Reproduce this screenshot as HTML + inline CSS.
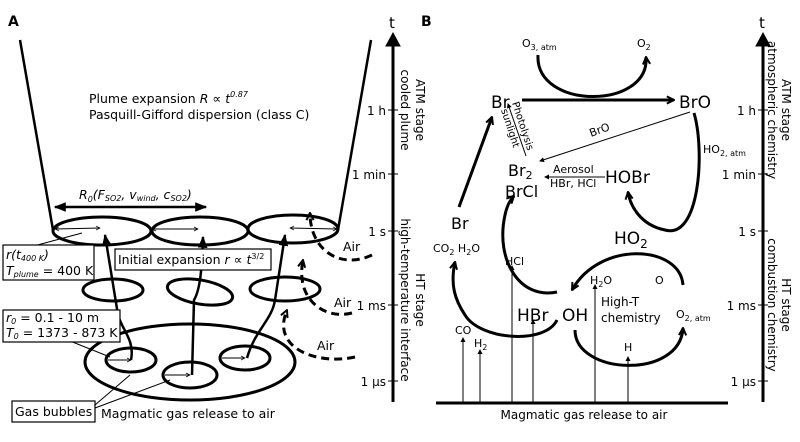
<!DOCTYPE html>
<html><head><meta charset="utf-8"><style>
body{margin:0;background:#fff}
svg{display:block;font-family:"DejaVu Sans","Liberation Sans",sans-serif}
</style></head><body>
<svg width="800" height="442" viewBox="0 0 800 442" xmlns="http://www.w3.org/2000/svg">
<defs>
<marker id="ah" viewBox="0 0 10 10" refX="8" refY="5" markerUnits="userSpaceOnUse" markerWidth="5" markerHeight="5" orient="auto-start-reverse"><path d="M0,0 L10,5 L0,10 z" fill="#000"/></marker>
<marker id="ao" viewBox="0 0 10 10" refX="9" refY="5" markerUnits="userSpaceOnUse" markerWidth="9" markerHeight="9" orient="auto"><path d="M1,1 L9,5 L1,9" fill="none" stroke="#000" stroke-width="2.2"/></marker>
<marker id="ai" viewBox="0 0 10 10" refX="9" refY="5" markerUnits="userSpaceOnUse" markerWidth="5" markerHeight="5" orient="auto-start-reverse"><path d="M1,1 L9,5 L1,9" fill="none" stroke="#000" stroke-width="1.5"/></marker>
<marker id="as" viewBox="0 0 10 10" refX="9" refY="5" markerUnits="userSpaceOnUse" markerWidth="12" markerHeight="12" orient="auto-start-reverse"><path d="M0,1 L10,5 L0,9 z" fill="#000"/></marker>
</defs>
<g fill="none" stroke="#000">
<!-- Panel A -->
<text x="8" y="26" font-weight="bold" font-size="14" fill="#000" stroke="none">A</text>
<line x1="393" y1="402" x2="393" y2="46" stroke-width="3"/>
<path d="M386,46 L393,33 L400,46 z" fill="#000"/>
<g stroke-width="1"><line x1="388" y1="110" x2="398" y2="110"/><line x1="388" y1="174" x2="398" y2="174"/><line x1="388" y1="231" x2="398" y2="231"/><line x1="388" y1="305" x2="398" y2="305"/><line x1="388" y1="381" x2="398" y2="381"/></g>
<g fill="#000" stroke="none" font-size="12" text-anchor="end">
<text x="386" y="115">1 h</text><text x="386" y="179">1 min</text><text x="386" y="236">1 s</text><text x="386" y="310">1 ms</text><text x="386" y="386">1 µs</text>
<text x="392" y="28" text-anchor="middle" font-size="15">t</text>
</g>
<g fill="#000" stroke="none" font-size="12" text-anchor="middle">
<text transform="translate(416,110) rotate(90)">ATM stage</text>
<text transform="translate(401,110) rotate(90)">cooled plume</text>
<text transform="translate(416,300) rotate(90)">HT stage</text>
<text transform="translate(401,300) rotate(90)">high-temperature interface</text>
</g>
<line x1="20" y1="40" x2="53" y2="230" stroke-width="2.5"/>
<line x1="371" y1="40" x2="338" y2="230" stroke-width="2.5"/>
<g fill="#000" stroke="none" font-size="12.5">
<text x="89" y="103">Plume expansion <tspan font-style="italic">R</tspan> ∝ <tspan font-style="italic">t</tspan><tspan font-size="8" dy="-6" font-style="italic">0.87</tspan></text>
<text x="89" y="119">Pasquill-Gifford dispersion (class C)</text>
<text x="79" y="199" font-style="italic">R<tspan font-size="8" dy="3">0</tspan><tspan dy="-3">(F</tspan><tspan font-size="8" dy="2">SO2</tspan><tspan dy="-2">, v</tspan><tspan font-size="8" dy="2">wind</tspan><tspan dy="-2">, c</tspan><tspan font-size="8" dy="2">SO2</tspan><tspan dy="-2">)</tspan></text>
</g>
<line x1="55" y1="207" x2="206" y2="207" stroke-width="2.5" marker-start="url(#as)" marker-end="url(#as)"/>
<g stroke-width="3">
<ellipse cx="102" cy="231" rx="49" ry="14"/><ellipse cx="200" cy="231" rx="48" ry="14"/><ellipse cx="293" cy="229" rx="45" ry="14"/>
<ellipse cx="113" cy="290" rx="30" ry="11"/><ellipse cx="200" cy="292" rx="33" ry="12" transform="rotate(10 200 292)"/><ellipse cx="285" cy="289" rx="35" ry="12"/>
<ellipse cx="190" cy="362" rx="105" ry="38"/>
<ellipse cx="131" cy="360" rx="25" ry="12"/><ellipse cx="190" cy="375" rx="27" ry="13"/><ellipse cx="245" cy="358" rx="25" ry="12"/>
</g>
<g stroke-width="1">
<line x1="55" y1="229" x2="100" y2="228" marker-start="url(#ai)" marker-end="url(#ai)"/>
<line x1="152" y1="229" x2="198" y2="229" marker-start="url(#ai)" marker-end="url(#ai)"/>
<line x1="290" y1="228" x2="337" y2="229" marker-start="url(#ai)" marker-end="url(#ai)"/>
<line x1="108" y1="360" x2="131" y2="360" marker-end="url(#ai)"/>
<line x1="165" y1="375" x2="190" y2="375" marker-end="url(#ai)"/>
<line x1="222" y1="358" x2="245" y2="358" marker-end="url(#ai)"/>
<line x1="30" y1="247" x2="82" y2="233"/>
<line x1="70" y1="341" x2="110" y2="357"/>
<line x1="95" y1="405" x2="130" y2="375"/>
<line x1="95" y1="408" x2="170" y2="380"/>
</g>
<g stroke-width="2.5">
<path d="M131,360 C135,340 122,330 118,315 L105,235" marker-end="url(#as)"/>
<path d="M192,375 L194,300 C200,290 202,270 203,237" marker-end="url(#as)"/>
<path d="M247,358 C255,330 272,320 275,300 L285,235" marker-end="url(#as)"/>
</g>
<g stroke-width="3" stroke-dasharray="8,5">
<path d="M372,255 C340,270 310,250 310,213" marker-end="url(#ao)"/>
<path d="M352,313 C325,320 295,300 303,260" marker-end="url(#ao)"/>
<path d="M355,357 C320,365 270,350 287,310" marker-end="url(#ao)"/>
</g>
<g stroke-width="1.2" fill="#fff">
<rect x="3" y="245" width="91" height="35"/>
<rect x="115" y="249" width="156" height="21"/>
<rect x="3" y="310" width="117" height="32"/>
<rect x="12" y="401" width="83" height="21"/>
</g>
<g fill="#000" stroke="none" font-size="12.5">
<text x="6" y="259" font-style="italic">r(t<tspan font-size="8" dy="2">400 K</tspan><tspan dy="-2">)</tspan></text>
<text x="6" y="275"><tspan font-style="italic">T</tspan><tspan font-size="8" dy="2" font-style="italic">plume</tspan><tspan dy="-2"> = 400 K</tspan></text>
<text x="118" y="264">Initial expansion <tspan font-style="italic">r</tspan> ∝ <tspan font-style="italic">t</tspan><tspan font-size="8" dy="-5">3/2</tspan></text>
<text x="6" y="322"><tspan font-style="italic">r</tspan><tspan font-size="8" dy="2" font-style="italic">0</tspan><tspan dy="-2"> = 0.1 - 10 m</tspan></text>
<text x="6" y="337"><tspan font-style="italic">T</tspan><tspan font-size="8" dy="2" font-style="italic">0</tspan><tspan dy="-2"> = 1373 - 873 K</tspan></text>
<text x="15" y="416">Gas bubbles</text>
<text x="101" y="418">Magmatic gas release to air</text>
<text x="343" y="251">Air</text><text x="334" y="307">Air</text><text x="317" y="350">Air</text>
</g>

<!-- Panel B -->
<text x="421" y="26" font-weight="bold" font-size="14" fill="#000" stroke="none">B</text>
<line x1="763" y1="402" x2="763" y2="46" stroke-width="3"/>
<path d="M756,46 L763,33 L770,46 z" fill="#000"/>
<g stroke-width="1"><line x1="758" y1="110" x2="768" y2="110"/><line x1="758" y1="174" x2="768" y2="174"/><line x1="758" y1="231" x2="768" y2="231"/><line x1="758" y1="305" x2="768" y2="305"/><line x1="758" y1="381" x2="768" y2="381"/></g>
<g fill="#000" stroke="none" font-size="12" text-anchor="end">
<text x="756" y="115">1 h</text><text x="756" y="179">1 min</text><text x="756" y="236">1 s</text><text x="756" y="310">1 ms</text><text x="756" y="386">1 µs</text>
<text x="762" y="28" text-anchor="middle" font-size="15">t</text>
</g>
<g fill="#000" stroke="none" font-size="12" text-anchor="middle">
<text transform="translate(782,110) rotate(90)">ATM stage</text>
<text transform="translate(768,110) rotate(90)">atmospheric chemistry</text>
<text transform="translate(782,305) rotate(90)">HT stage</text>
<text transform="translate(768,305) rotate(90)">combustion chemistry</text>
</g>
<line x1="436" y1="403" x2="728" y2="403" stroke-width="3"/>
<g fill="#000" stroke="none">
<text x="584" y="419" font-size="12" text-anchor="middle">Magmatic gas release to air</text>
<text x="522" y="47" font-size="11">O<tspan font-size="8" dy="3">3, atm</tspan></text>
<text x="637" y="47" font-size="11">O<tspan font-size="8" dy="3">2</tspan></text>
<text x="491" y="108" font-size="17">Br</text>
<text x="679" y="108" font-size="17">BrO</text>
<text x="508" y="176" font-size="16">Br<tspan font-size="11" dy="3">2</tspan></text>
<text x="505" y="197" font-size="16">BrCl</text>
<text x="605" y="183" font-size="17">HOBr</text>
<text x="553" y="173" font-size="11">Aerosol</text>
<text x="550" y="187" font-size="11">HBr, HCl</text>
<text x="703" y="153" font-size="11">HO<tspan font-size="8" dy="3">2, atm</tspan></text>
<text transform="translate(591,137) rotate(-20)" font-size="11">BrO</text>
<text transform="translate(512,103) rotate(72)" font-size="10">Photolysis</text>
<text transform="translate(501,110) rotate(72)" font-size="10">sunlight</text>
<text x="451" y="229" font-size="16">Br</text>
<text x="433" y="252" font-size="11">CO<tspan font-size="8" dy="3">2</tspan><tspan dy="-3"> H</tspan><tspan font-size="8" dy="3">2</tspan><tspan dy="-3">O</tspan></text>
<text x="614" y="244" font-size="17">HO<tspan font-size="12" dy="4">2</tspan></text>
<text x="505" y="265" font-size="11">HCl</text>
<text x="590" y="284" font-size="11">H<tspan font-size="8" dy="3">2</tspan><tspan dy="-3">O</tspan></text>
<text x="655" y="284" font-size="11">O</text>
<text x="601" y="306" font-size="12">High-T</text>
<text x="601" y="322" font-size="12">chemistry</text>
<text x="676" y="318" font-size="11">O<tspan font-size="8" dy="3">2, atm</tspan></text>
<text x="517" y="321" font-size="17">HBr</text>
<text x="562" y="321" font-size="17">OH</text>
<text x="455" y="334" font-size="11">CO</text>
<text x="474" y="347" font-size="11">H<tspan font-size="8" dy="3">2</tspan></text>
<text x="624" y="351" font-size="11">H</text>
</g>
<g stroke-width="1">
<line x1="463" y1="403" x2="463" y2="338" marker-end="url(#ah)"/>
<line x1="480" y1="403" x2="480" y2="350" marker-end="url(#ah)"/>
<line x1="512" y1="403" x2="512" y2="266" marker-end="url(#ah)"/>
<line x1="533" y1="403" x2="533" y2="320" marker-end="url(#ah)"/>
<line x1="595" y1="403" x2="595" y2="285" marker-end="url(#ah)"/>
<line x1="628" y1="403" x2="628" y2="357" marker-end="url(#ah)"/>
<line x1="690" y1="112" x2="540" y2="161" marker-end="url(#ah)"/>
<line x1="605" y1="177" x2="545" y2="177" marker-end="url(#ah)"/>
<line x1="526" y1="156" x2="508" y2="104" marker-end="url(#ah)"/>
</g>
<g stroke-width="3">
<path d="M538,55 C535,110 650,110 646,57" marker-end="url(#ao)"/>
<line x1="522" y1="100" x2="674" y2="100" marker-end="url(#ao)"/>
<path d="M694,113 C705,150 700,240 665,230 C640,225 630,205 628,192" marker-end="url(#ao)"/>
<line x1="459" y1="207" x2="492" y2="117" marker-end="url(#ao)"/>
<path d="M557,292 C520,300 495,260 505,215 C507,205 510,200 514,196" marker-end="url(#ao)"/>
<path d="M557,320 C545,345 480,340 465,315 C455,300 450,285 455,262" marker-end="url(#ao)"/>
<path d="M683,285 C680,245 600,240 572,290" marker-end="url(#ao)"/>
<path d="M575,330 C575,375 680,380 683,328" marker-end="url(#ao)"/>
</g>
</g>
</svg>
</body></html>
